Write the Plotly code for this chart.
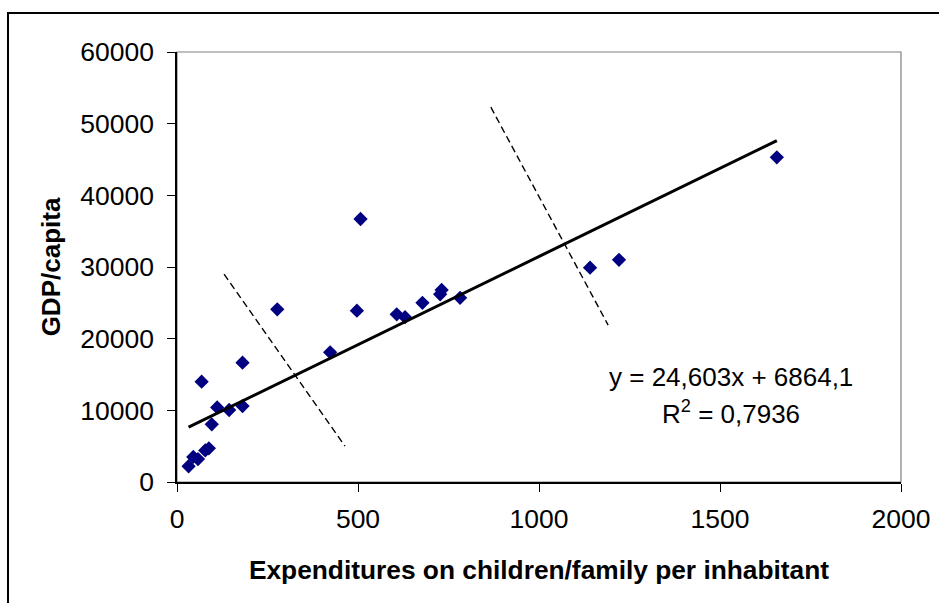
import plotly.graph_objects as go

# Data
expenditure = [32, 45, 58, 78, 88, 68, 96, 111, 144, 181, 181, 277, 423, 497, 507,
               607, 630, 678, 727, 731, 782, 1141, 1221, 1657]
gdp = [2200, 3500, 3200, 4400, 4700, 14000, 8050, 10400, 10050, 10600, 16650, 24100,
       18100, 23900, 36700, 23400, 23000, 25000, 26200, 26800, 25700, 29900, 31000, 45300]

slope = 24.603
intercept = 6864.1
r2_text = "0,7936"

dash1_x = [130, 464]
dash1_y = [29000, 5000]
dash2_x = [867, 1191]
dash2_y = [52300, 21900]

x_ticks = [0, 500, 1000, 1500, 2000]
y_ticks = [0, 10000, 20000, 30000, 40000, 50000, 60000]

W, H = 939, 603
L, R, T, B = 177, 38, 52, 121
FONT = "Liberation Sans, Arial, sans-serif"
FS = 26.5

trend_x = [min(expenditure), max(expenditure)]
trend_y = [slope * v + intercept for v in trend_x]

fig = go.Figure()
fig.add_trace(go.Scatter(x=dash1_x, y=dash1_y, mode="lines",
                         line=dict(color="black", width=1.4, dash="7px,4px"), hoverinfo="skip"))
fig.add_trace(go.Scatter(x=dash2_x, y=dash2_y, mode="lines",
                         line=dict(color="black", width=1.4, dash="7px,4px"), hoverinfo="skip"))
fig.add_trace(go.Scatter(x=expenditure, y=gdp, mode="markers",
                         marker=dict(symbol="diamond", color="#000080", size=11,
                                     line=dict(width=0))))
fig.add_trace(go.Scatter(x=trend_x, y=trend_y, mode="lines",
                         line=dict(color="black", width=3), hoverinfo="skip"))

pw = W - L - R
ph = H - T - B
# outer chart border (top and left visible)
fig.add_shape(type="rect", xref="paper", yref="paper",
              x0=(8 - L) / pw, x1=(W + 20 - L) / pw,
              y0=(H - B - (H + 20)) / ph, y1=(H - B - 13) / ph,
              line=dict(color="black", width=2), layer="below")
# plot area border (gray)
fig.add_shape(type="rect", xref="paper", yref="paper", x0=0, x1=1, y0=0, y1=1,
              line=dict(color="#808080", width=1.2), layer="below")

fig.add_annotation(x=1530, y=14600, xref="x", yref="y",
                   text=f"y = {str(slope).replace('.', ',')}x + {str(intercept).replace('.', ',')}",
                   showarrow=False, font=dict(family=FONT, size=26, color="black"))
fig.add_annotation(x=1530, y=9700, xref="x", yref="y",
                   text=f"R<sup>2</sup> = {r2_text}",
                   showarrow=False, font=dict(family=FONT, size=26, color="black"))

fig.update_layout(
    width=W, height=H, margin=dict(l=L, r=R, t=T, b=B, autoexpand=False),
    paper_bgcolor="white", plot_bgcolor="white", showlegend=False,
    font=dict(family=FONT, size=FS, color="black"),
    xaxis=dict(range=[0, 2000], tickvals=x_ticks, ticktext=[str(v) for v in x_ticks],
               ticks="outside", ticklen=8, ticklabelstandoff=4, automargin=False,
               tickcolor="black", showline=True, linecolor="black", linewidth=1.5,
               showgrid=False, zeroline=False, tickfont=dict(size=FS),
               title=dict(text="<b>Expenditures on children/family per inhabitant</b>",
                          font=dict(size=26.3), standoff=28)),
    yaxis=dict(range=[0, 60000], tickvals=y_ticks, ticktext=[str(v) for v in y_ticks],
               ticks="outside", ticklen=8, ticklabelstandoff=8, automargin=False,
               tickcolor="black", showline=True, linecolor="black", linewidth=1.5,
               showgrid=False, zeroline=False, tickfont=dict(size=FS),
               title=dict(text="<b>GDP/capita</b>", font=dict(size=26), standoff=12)),
)

fig.write_html("out.html")
